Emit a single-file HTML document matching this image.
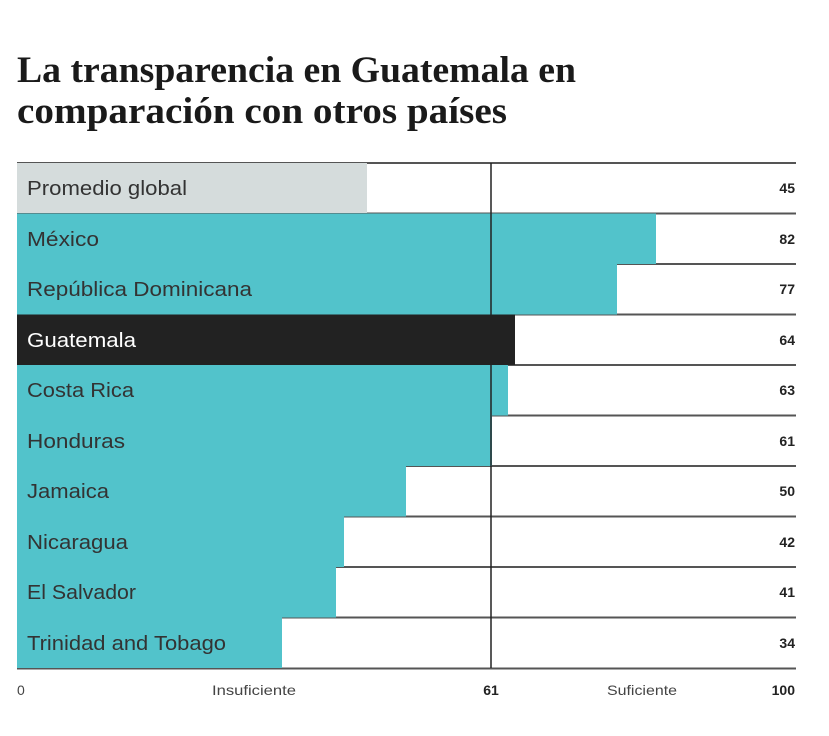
<!DOCTYPE html>
<html><head><meta charset="utf-8"><style>
html,body{margin:0;padding:0;background:#fff;}
svg{display:block;}
</style></head><body>
<svg width="829" height="736" viewBox="0 0 829 736" xmlns="http://www.w3.org/2000/svg">
<g font-family="Liberation Serif, serif" font-weight="bold" font-size="37" fill="#1a1a1a">
<text x="17" y="82" textLength="559" lengthAdjust="spacingAndGlyphs">La transparencia en Guatemala en</text>
<text x="17" y="123" textLength="490" lengthAdjust="spacingAndGlyphs">comparación con otros países</text>
</g>
<g stroke="#555" stroke-width="2">
<line x1="17" x2="796" y1="163" y2="163"/>
<line x1="17" x2="796" y1="213.5" y2="213.5"/>
<line x1="17" x2="796" y1="264" y2="264"/>
<line x1="17" x2="796" y1="314.5" y2="314.5"/>
<line x1="17" x2="796" y1="365" y2="365"/>
<line x1="17" x2="796" y1="415.5" y2="415.5"/>
<line x1="17" x2="796" y1="466" y2="466"/>
<line x1="17" x2="796" y1="516.5" y2="516.5"/>
<line x1="17" x2="796" y1="567" y2="567"/>
<line x1="17" x2="796" y1="617.5" y2="617.5"/>
<line x1="17" x2="796" y1="668.5" y2="668.5"/>
</g>
<rect x="17" y="163" width="350" height="50" fill="#d5dcdc"/>
<rect x="17" y="213.5" width="639" height="50.5" fill="#52c3cb"/>
<rect x="17" y="264" width="600" height="50.5" fill="#52c3cb"/>
<rect x="17" y="314.5" width="498" height="50.5" fill="#222"/>
<rect x="17" y="365" width="491" height="50.5" fill="#52c3cb"/>
<rect x="17" y="415.5" width="475" height="50.5" fill="#52c3cb"/>
<rect x="17" y="466" width="389" height="50.5" fill="#52c3cb"/>
<rect x="17" y="516.5" width="327" height="50.5" fill="#52c3cb"/>
<rect x="17" y="567" width="319" height="50.5" fill="#52c3cb"/>
<rect x="17" y="617.5" width="265" height="50.5" fill="#52c3cb"/>
<line x1="491" x2="491" y1="163" y2="668" stroke="#222" stroke-width="1.5"/>
<g font-family="Liberation Sans, sans-serif" font-size="20" fill="#333">
<text x="27" y="195" textLength="160" lengthAdjust="spacingAndGlyphs">Promedio global</text>
<text x="27" y="246" textLength="72" lengthAdjust="spacingAndGlyphs">México</text>
<text x="27" y="296" textLength="225" lengthAdjust="spacingAndGlyphs">República Dominicana</text>
<text x="27" y="347" textLength="109" lengthAdjust="spacingAndGlyphs" fill="#fff">Guatemala</text>
<text x="27" y="397" textLength="107" lengthAdjust="spacingAndGlyphs">Costa Rica</text>
<text x="27" y="448" textLength="98" lengthAdjust="spacingAndGlyphs">Honduras</text>
<text x="27" y="498" textLength="82" lengthAdjust="spacingAndGlyphs">Jamaica</text>
<text x="27" y="549" textLength="101" lengthAdjust="spacingAndGlyphs">Nicaragua</text>
<text x="27" y="599" textLength="109" lengthAdjust="spacingAndGlyphs">El Salvador</text>
<text x="27" y="650" textLength="199" lengthAdjust="spacingAndGlyphs">Trinidad and Tobago</text>
</g>
<g font-family="Liberation Sans, sans-serif" font-size="14" font-weight="bold" fill="#222" text-anchor="end">
<text x="795" y="193">45</text>
<text x="795" y="244">82</text>
<text x="795" y="294">77</text>
<text x="795" y="345">64</text>
<text x="795" y="395">63</text>
<text x="795" y="446">61</text>
<text x="795" y="496">50</text>
<text x="795" y="547">42</text>
<text x="795" y="597">41</text>
<text x="795" y="648">34</text>
</g>
<g font-family="Liberation Sans, sans-serif" font-size="14" fill="#444">
<text x="17" y="695">0</text>
<text x="254" y="695" text-anchor="middle" textLength="84" lengthAdjust="spacingAndGlyphs">Insuficiente</text>
<text x="491" y="695" text-anchor="middle" font-weight="bold" fill="#222">61</text>
<text x="642" y="695" text-anchor="middle" textLength="70" lengthAdjust="spacingAndGlyphs">Suficiente</text>
<text x="795" y="695" text-anchor="end" font-weight="bold" fill="#222">100</text>
</g>
</svg>
</body></html>
